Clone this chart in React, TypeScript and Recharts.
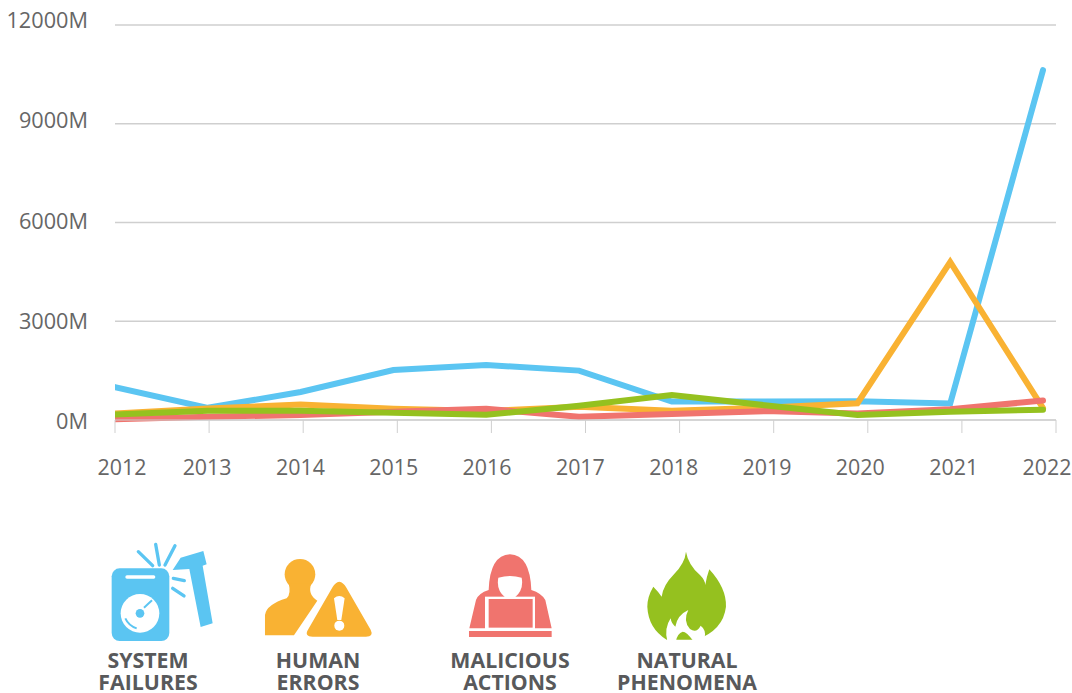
import { CartesianGrid, Line, LineChart, XAxis, YAxis } from "recharts";

const years = [2012, 2013, 2014, 2015, 2016, 2017, 2018, 2019, 2020, 2021, 2022];
const systemFailures = [1000, 370, 850, 1520, 1670, 1500, 560, 560, 570, 500, 10630];
const humanErrors = [200, 350, 470, 340, 270, 400, 280, 370, 510, 4800, 360];
const maliciousActions = [20, 100, 150, 250, 340, 100, 180, 270, 200, 330, 590];
const naturalPhenomena = [170, 280, 280, 220, 160, 430, 760, 450, 150, 250, 310];
const valueTicks = [0, 3000, 6000, 9000, 12000];

const BLUE = "#5BC5F2";
const ORANGE = "#F9B233";
const RED = "#F0746E";
const GREEN = "#95C11F";
const TEXT = "#666666";
const RULE = "#cfcfcf";
const FONT = "'Open Sans', sans-serif";

const data = years.map((year, i) => ({
  year,
  system: systemFailures[i],
  human: humanErrors[i],
  malicious: maliciousActions[i],
  natural: naturalPhenomena[i],
}));

// year labels drift left of the tick marks, first one sits right of its mark
function YearTick({ x, y, payload, index }: any) {
  const shift = index === 0 ? 7 : -2 - (index - 1) * 0.78;
  return (
    <text x={x + shift} y={y + 40} textAnchor="middle" fontSize={21.4} fontFamily={FONT} fill={TEXT}>
      {payload.value}
    </text>
  );
}

function ValueTick({ y, payload }: any) {
  const shift = 9 - (payload.value / 12000) * 6;
  return (
    <text x={88} y={y + shift} textAnchor="end" fontSize={21.7} fontFamily={FONT} fill={TEXT}>
      {payload.value}M
    </text>
  );
}

function Caption({ x, y, lines }: { x: number; y: number; lines: string[] }) {
  return (
    <text textAnchor="middle" fontSize={21.3} fontWeight={700} fontFamily={FONT} fill="#58595b">
      <tspan x={x} y={y}>{lines[0]}</tspan>
      <tspan x={x} y={y + 22}>{lines[1]}</tspan>
    </text>
  );
}

function Icons() {
  return (
    <svg width={1072} height={693} style={{ position: "absolute", left: 0, top: 0 }}>
      <g transform="translate(90 535) scale(0.3333)">
        <rect x={65} y={100} width={173} height={218} rx={24} fill={BLUE} />
        <rect x={106} y={121} width={90} height={10} rx={5} fill="#fff" />
        <circle cx={150} cy={235} r={58} fill="#fff" />
        <circle cx={150} cy={235} r={13} fill={BLUE} />
        <path d="M162 218 L186 196" stroke={BLUE} strokeWidth={6} />
        <path d="M106 250 Q116 272 140 280" stroke={BLUE} strokeWidth={6} fill="none" />
        <g stroke={BLUE} strokeWidth={10} strokeLinecap="round">
          <line x1={145} y1={50} x2={188} y2={92} />
          <line x1={197} y1={28} x2={208} y2={90} />
          <line x1={255} y1={32} x2={225} y2={90} />
          <line x1={250} y1={130} x2={283} y2={137} />
          <line x1={248} y1={160} x2={282} y2={183} />
        </g>
        <path d="M248 105 L272 68 L340 48 L350 88 L338 92 L368 265 L332 276 L298 102 Z" fill={BLUE} />

        <ellipse cx={630} cy={118} rx={46} ry={46} fill={ORANGE} />
        <path d="M525 301 L525 240 Q530 208 590 190 Q604 178 596 145 L664 145 Q652 180 682 197 L612 301 Z" fill={ORANGE} />
        <path d="M748 140 Q760 142 768 156 L842 284 Q852 304 828 305 L668 305 Q642 304 654 284 L728 156 Q736 142 748 140 Z" fill={ORANGE} />
        <path d="M732 190 Q748 176 764 190 L754 255 L742 255 Z" fill="#fff" />
        <circle cx={748} cy={272} r={15} fill="#fff" />
      </g>
      <g transform="translate(440 535) scale(0.3333)">
        <path d="M88 280 L108 195 Q115 175 146 165 Q150 60 210 58 Q270 60 274 165 Q305 175 316 195 L335 280 Z" fill={RED} />
        <path d="M175 128 Q210 118 245 128 Q252 165 225 187 L195 187 Q168 165 175 128 Z" fill="#fff" />
        <rect x={135} y={185} width={150} height={100} fill="#fff" />
        <rect x={146} y={192} width={132} height={86} fill={RED} />
        <rect x={87} y={288} width={248} height={18} fill={RED} />

        <path d="M738 50 Q745 90 780 120 Q795 135 796 150 Q800 125 808 103 Q860 160 858 215 Q850 285 770 314 L680 314 Q625 280 622 215 Q622 185 640 155 Q655 170 665 185 Q670 150 700 120 Q735 85 738 50 Z" fill={GREEN} />
        <path d="M682 318 Q672 280 692 250 Q694 265 706 275 Q712 240 745 225 Q728 258 750 282 Q770 296 782 272 Q800 285 794 310 L770 318 L760 318 Q740 290 728 290 Q712 296 708 318 Z" fill="#fff" />
      </g>
      <Caption x={148} y={668} lines={["SYSTEM", "FAILURES"]} />
      <Caption x={318} y={668} lines={["HUMAN", "ERRORS"]} />
      <Caption x={510} y={668} lines={["MALICIOUS", "ACTIONS"]} />
      <Caption x={687} y={668} lines={["NATURAL", "PHENOMENA"]} />
    </svg>
  );
}

export default function App() {
  const series = [
    { key: "system", color: BLUE },
    { key: "human", color: ORANGE },
    { key: "malicious", color: RED },
    { key: "natural", color: GREEN },
  ];
  return (
    <div style={{ position: "absolute", left: 0, top: 0, width: 1072, height: 693, overflow: "hidden", background: "#fff" }}>
      <LineChart width={1072} height={693} data={data} margin={{ top: 25, right: 16, bottom: 243, left: 0 }}>
        <CartesianGrid vertical={false} stroke={RULE} strokeWidth={1.5} xAxisId="marks" />
        <XAxis
          xAxisId="marks"
          dataKey="year"
          type="number"
          domain={[2012, 2022]}
          ticks={years}
          interval={0}
          height={30}
          stroke={RULE}
          tickSize={13}
          tick={<YearTick />}
        />
        <XAxis xAxisId="data" dataKey="year" type="number" domain={[2012, 2022.14]} allowDataOverflow height={0} hide />
        <YAxis
          width={115}
          domain={[0, 12000]}
          ticks={valueTicks}
          axisLine={false}
          tickLine={false}
          tick={<ValueTick />}
        />
        {series.map((s) => (
          <Line
            key={s.key}
            xAxisId="data"
            dataKey={s.key}
            type="linear"
            stroke={s.color}
            strokeWidth={6}
            strokeLinecap="round"
            dot={false}
            isAnimationActive={false}
          />
        ))}
      </LineChart>
      <Icons />
    </div>
  );
}
